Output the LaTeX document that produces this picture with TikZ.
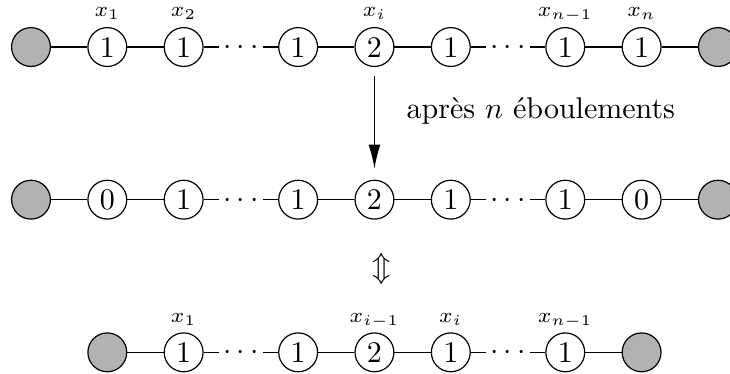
\documentclass[tikz,border=0pt]{standalone}
\usepackage{amssymb}
\usepackage{tikz}
\usetikzlibrary{positioning,arrows.meta}

\begin{document}
\begin{tikzpicture}[
    x=0.894cm, y=0.894cm,
    >={Latex[length=8pt,width=4pt]},
    site/.style={circle,draw,inner sep=0pt,minimum size=0.455cm},
    sink/.style={site,fill=gray!60},
    gap/.style={inner sep=1.2pt,text height=5pt,text depth=0pt},
    lbl/.style={inner sep=0pt,font=\scriptsize,text depth=1.2pt},
  ]
  \useasboundingbox (-0.406,0.616) rectangle (9.158,-4.275);

  % Configuration initiale
  \node[sink] (u0) at (0,0) {};
  \node[site] (u1) at (1,0) {1};
  \node[site] (u2) at (2,0) {1};
  \node[gap] (ud1) at (2.75,0) {$\cdots$};
  \node[site] (u3) at (3.5,0) {1};
  \node[site] (u4) at (4.5,0) {2};
  \node[site] (u5) at (5.5,0) {1};
  \node[gap] (ud2) at (6.25,0) {$\cdots$};
  \node[site] (u6) at (7,0) {1};
  \node[site] (u7) at (8,0) {1};
  \node[sink] (u8) at (9,0) {};
  \draw (u0) -- (u1) -- (u2) -- (ud1) -- (u3) -- (u4) -- (u5) -- (ud2) -- (u6) -- (u7) -- (u8);
  \node[lbl, above=2pt of u1] (xu1) {$x_1$};
  \node[lbl, above=2pt of u2] (xu2) {$x_2$};
  \node[lbl, above=2pt of u4] (xu4) {$x_i$};
  \node[lbl, above=2pt of u6] (xu6) {$x_{n-1}$};
  \node[lbl, above=2pt of u7] (xu7) {$x_n$};

  % Apres les eboulements
  \node[sink] (m0) at (0,-2) {};
  \node[site] (m1) at (1,-2) {0};
  \node[site] (m2) at (2,-2) {1};
  \node[gap] (md1) at (2.75,-2) {$\cdots$};
  \node[site] (m3) at (3.5,-2) {1};
  \node[site] (m4) at (4.5,-2) {2};
  \node[site] (m5) at (5.5,-2) {1};
  \node[gap] (md2) at (6.25,-2) {$\cdots$};
  \node[site] (m6) at (7,-2) {1};
  \node[site] (m7) at (8,-2) {0};
  \node[sink] (m8) at (9,-2) {};
  \draw (m0) -- (m1) -- (m2) -- (md1) -- (m3) -- (m4) -- (m5) -- (md2) -- (m6) -- (m7) -- (m8);

  \draw[->, shorten <=3pt, shorten >=3.7pt] (u4) -- node[inner sep=0pt, right=10.5pt, pos=0.39] (txt) {après $n$ éboulements} (m4);
  \node (eq) at (4.59,-2.91) {$\Updownarrow$};

  % Chaine equivalente
  \node[sink] (l0) at (1,-4) {};
  \node[site] (l1) at (2,-4) {1};
  \node[gap] (ld1) at (2.75,-4) {$\cdots$};
  \node[site] (l2) at (3.5,-4) {1};
  \node[site] (l3) at (4.5,-4) {2};
  \node[site] (l4) at (5.5,-4) {1};
  \node[gap] (ld2) at (6.25,-4) {$\cdots$};
  \node[site] (l5) at (7,-4) {1};
  \node[sink] (l6) at (8,-4) {};
  \draw (l0) -- (l1) -- (ld1) -- (l2) -- (l3) -- (l4) -- (ld2) -- (l5) -- (l6);
  \node[lbl, above=2pt of l1] (xl1) {$x_1$};
  \node[lbl, above=2pt of l3] (xl3) {$x_{i-1}$};
  \node[lbl, above=2pt of l4] (xl4) {$x_i$};
  \node[lbl, above=2pt of l5] (xl5) {$x_{n-1}$};
\end{tikzpicture}
\end{document}
